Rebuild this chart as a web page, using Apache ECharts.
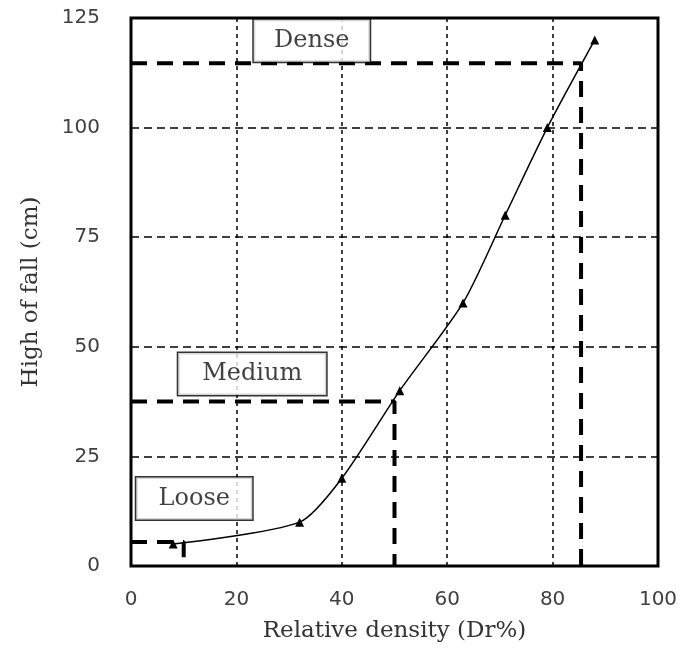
<!DOCTYPE html>
<html>
<head>
<meta charset="utf-8">
<script src="https://cdn.jsdelivr.net/npm/echarts@6/dist/echarts.min.js"></script>
<style>
html,body{margin:0;padding:0;background:#fff;}
#main{width:683px;height:657px;}
</style>
</head>
<body>
<div id="main"></div>
<script>
// fall height vs relative density
var densityDr = [8, 32, 40, 51, 63, 71, 79, 88];
var fallHeight = [5, 10, 20, 40, 60, 80, 100, 120];

// limits for each state (Dr%, height)
var stateNames = ['Loose', 'Medium', 'Dense'];
var stateDr = [10, 50, 85.4];
var stateHeight = [5.5, 37.5, 114.7];

// where the state boxes sit (Dr%, height)
var boxDr = [12, 23, 34.3];
var boxHeight = [15.4, 43.8, 119.8];

var xTicks = [0, 20, 40, 60, 80, 100];
var yTicks = [0, 25, 50, 75, 100, 125];

var chart = echarts.init(document.getElementById('main'));

var limitSeries = stateNames.map(function (n, i) {
    return {
        name: n + ' limit',
        type: 'line',
        symbol: 'none',
        z: 3,
        lineStyle: { color: '#000', width: 4, type: [16, 10] },
        data: [[xTicks[0], stateHeight[i]], [stateDr[i], stateHeight[i]], [stateDr[i], yTicks[0]]]
    };
});

var boxWidths = [116, 148, 116];

var option = {
    animation: false,
    grid: {
        left: 131,
        top: 18,
        right: 25,
        bottom: 91,
        show: true,
        borderColor: '#000',
        borderWidth: 3
    },
    xAxis: {
        type: 'value',
        min: xTicks[0],
        max: xTicks[xTicks.length - 1],
        interval: 20,
        name: 'Relative density (Dr%)',
        nameLocation: 'middle',
        nameGap: 54,
        nameTextStyle: { fontFamily: 'DejaVu Serif', fontSize: 23, color: '#333' },
        axisLine: { show: false },
        axisTick: { show: false },
        axisLabel: { fontFamily: 'DejaVu Sans', fontSize: 20, color: '#404040', margin: 24 },
        splitLine: { show: true, lineStyle: { color: '#000', width: 1.5, type: [4, 4] } }
    },
    yAxis: {
        type: 'value',
        min: yTicks[0],
        max: yTicks[yTicks.length - 1],
        interval: 25,
        name: 'High of fall (cm)',
        nameLocation: 'middle',
        nameGap: 88,
        nameTextStyle: { fontFamily: 'DejaVu Serif', fontSize: 23, color: '#333' },
        axisLine: { show: false },
        axisTick: { show: false },
        axisLabel: { fontFamily: 'DejaVu Sans', fontSize: 20, color: '#404040', margin: 31 },
        splitLine: { show: true, lineStyle: { color: '#000', width: 1.5, type: [8, 5] } }
    },
    series: limitSeries.concat([
        {
            name: 'Fall height',
            type: 'line',
            smooth: 0.25,
            symbol: 'triangle',
            symbolSize: 9,
            z: 4,
            itemStyle: { color: '#000' },
            lineStyle: { color: '#000', width: 1.5 },
            data: densityDr.map(function (d, i) { return [d, fallHeight[i]]; })
        },
        {
            name: 'States',
            type: 'scatter',
            symbolSize: 0,
            z: 5,
            itemStyle: { color: '#000' },
            label: {
                show: true,
                position: 'inside',
                formatter: function (p) { return p.value[2]; },
                fontFamily: 'DejaVu Serif',
                fontSize: 24,
                color: '#111',
                textBorderWidth: 0,
                backgroundColor: '#fff',
                borderColor: '#000',
                borderWidth: 1.5,
                align: 'center',
                verticalAlign: 'middle',
                lineHeight: 42,
                height: 42
            },
            data: stateNames.map(function (n, i) {
                return {
                    value: [boxDr[i], boxHeight[i], n],
                    label: { width: boxWidths[i] }
                };
            })
        }
    ])
};

chart.setOption(option);
</script>
</body>
</html>
